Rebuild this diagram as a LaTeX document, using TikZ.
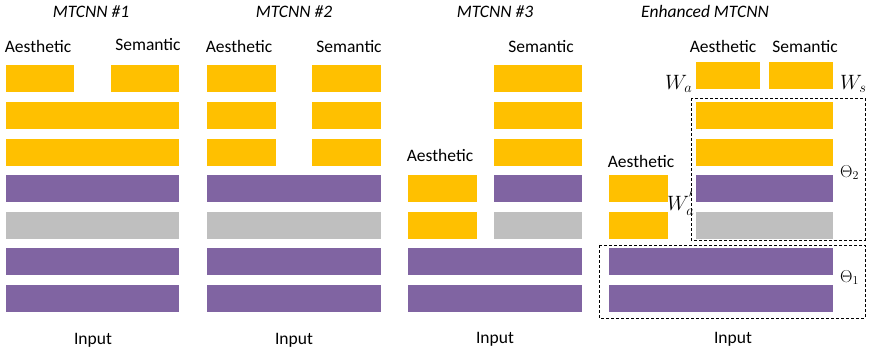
\documentclass[tikz,border=0pt]{standalone}
\usepackage{fontspec}
\setmainfont{Carlito}
\definecolor{barYellow}{HTML}{FFC000}
\definecolor{barPurple}{HTML}{8064A2}
\definecolor{barGray}{HTML}{BFBFBF}
\tikzset{
  Y/.style={rectangle, fill=barYellow, inner sep=0pt, minimum height=27pt, anchor=north west},
  P/.style={rectangle, fill=barPurple, inner sep=0pt, minimum height=27pt, anchor=north west},
  G/.style={rectangle, fill=barGray, inner sep=0pt, minimum height=27pt, anchor=north west},
  LB/.style={font=\fontsize{17.5}{20}\selectfont, inner sep=0pt, anchor=base},
  TB/.style={font=\fontsize{17.5}{20}\selectfont\itshape, inner sep=0pt, anchor=base},
  ML/.style={font=\fontsize{22}{24}\selectfont, inner sep=0pt, anchor=base west},
  DB/.style={draw=black, line width=1pt, dash pattern=on 3pt off 2pt}
}

\begin{document}
\begin{tikzpicture}[x=1pt, y=-1pt]
\useasboundingbox (0,0) rectangle (872,349);

% Titles
\node[TB] (t1) at (91,17.5)  {MTCNN \#1};
\node[TB] (t2) at (294,17.5) {MTCNN \#2};
\node[TB] (t3) at (495,17.5) {MTCNN \#3};
\node[TB] (t4) at (705,17)   {Enhanced MTCNN};

% -- MTCNN #1 --
\node[LB] (a1) at (38,52)  {Aesthetic};
\node[LB] (s1) at (148,50) {Semantic};
\node[Y, minimum width=68pt]  (m1a) at (6,65)   {};
\node[Y, minimum width=68pt]  (m1s) at (111,65) {};
\node[Y, minimum width=173pt] (m1r2) at (6,102) {};
\node[Y, minimum width=173pt] (m1r3) at (6,139) {};
\node[P, minimum width=173pt] (m1r4) at (6,175) {};
\node[G, minimum width=173pt] (m1r5) at (6,212) {};
\node[P, minimum width=173pt] (m1r6) at (6,248) {};
\node[P, minimum width=173pt] (m1r7) at (6,285) {};
\node[LB] (in1) at (93,344) {Input};

% -- MTCNN #2 --
\node[LB] (a2) at (239,52) {Aesthetic};
\node[LB] (s2) at (349,52) {Semantic};
\node[Y, minimum width=69pt]  (m2a1) at (207,65)  {};
\node[Y, minimum width=69pt]  (m2s1) at (312,65)  {};
\node[Y, minimum width=69pt]  (m2a2) at (207,102) {};
\node[Y, minimum width=69pt]  (m2s2) at (312,102) {};
\node[Y, minimum width=69pt]  (m2a3) at (207,139) {};
\node[Y, minimum width=69pt]  (m2s3) at (312,139) {};
\node[P, minimum width=174pt] (m2r4) at (207,175) {};
\node[G, minimum width=174pt] (m2r5) at (207,212) {};
\node[P, minimum width=174pt] (m2r6) at (207,248) {};
\node[P, minimum width=174pt] (m2r7) at (207,285) {};
\node[LB] (in2) at (294,344) {Input};

% -- MTCNN #3 --
\node[LB] (s3) at (541,52)  {Semantic};
\node[LB] (a3) at (440,161) {Aesthetic};
\node[Y, minimum width=88pt]  (m3s1) at (494,65)  {};
\node[Y, minimum width=88pt]  (m3s2) at (494,102) {};
\node[Y, minimum width=88pt]  (m3s3) at (494,139) {};
\node[Y, minimum width=69pt]  (m3a1) at (408,175) {};
\node[P, minimum width=88pt]  (m3r4) at (494,175) {};
\node[Y, minimum width=69pt]  (m3a2) at (408,212) {};
\node[G, minimum width=88pt]  (m3r5) at (494,212) {};
\node[P, minimum width=174pt] (m3r6) at (408,248) {};
\node[P, minimum width=174pt] (m3r7) at (408,285) {};
\node[LB] (in3) at (495,343) {Input};

% -- Enhanced MTCNN --
\node[LB] (a4) at (723,52) {Aesthetic};
\node[LB] (s4) at (805,52) {Semantic};
\node[Y, minimum width=64pt]  (e4a) at (696,62)  {};
\node[Y, minimum width=64pt]  (e4s) at (769,62)  {};
\node[Y, minimum width=137pt] (e4r2) at (696,102) {};
\node[Y, minimum width=137pt] (e4r3) at (696,139) {};
\node[P, minimum width=137pt] (e4r4) at (696,175) {};
\node[G, minimum width=137pt] (e4r5) at (696,212) {};
\node[LB] (a4b) at (641,167) {Aesthetic};
\node[Y, minimum width=59pt]  (e4b1) at (609,175) {};
\node[Y, minimum width=59pt]  (e4b2) at (609,212) {};
\node[P, minimum width=224pt] (e4r6) at (609,248) {};
\node[P, minimum width=224pt] (e4r7) at (609,285) {};
\node[LB] (in4) at (733,343) {Input};

% Weights and shared parameters
\node[ML] (wa)  at (665,89)  {$W_a$};
\node[ML] (ws)  at (840,89)  {$W_s$};
\node[ML] (wa2) at (667,210) {$W_a^{'}$};
\node[ML, font=\fontsize{18}{20}\selectfont] (th2) at (840,177) {$\Theta_2$};
\node[ML, font=\fontsize{18}{20}\selectfont] (th1) at (840,282) {$\Theta_1$};

% Dashed groups
\draw[DB] (691,98) rectangle (865,240);
\draw[DB] (599,245) rectangle (865,318);

\end{tikzpicture}
\end{document}
